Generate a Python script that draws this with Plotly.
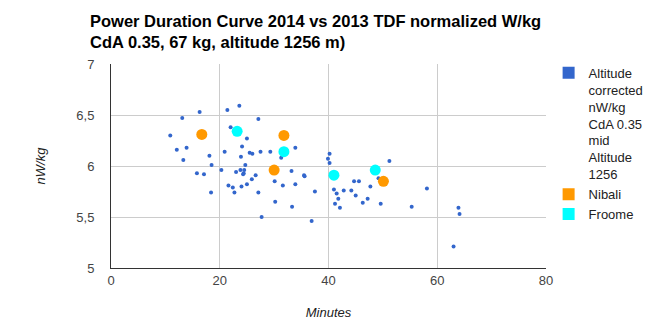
import plotly.graph_objects as go

blue_x = [16.3, 13.1, 10.9, 12.1, 13.9, 13.3, 18.1, 18.5, 15.8, 17.1, 18.4,
          23.6, 21.4, 27.1, 22.0, 25.0, 24.1, 20.9, 25.5, 26.0, 27.5, 29.3, 33.9,
          31.3, 23.9, 24.7, 20.3, 23.8, 24.5, 23.0, 24.4, 24.3, 26.6, 33.2, 35.5,
          35.6, 25.9, 30.1, 25.0, 31.6, 33.9, 21.6, 22.4, 24.0, 22.7, 27.1, 37.5,
          30.2, 33.3, 27.7, 36.9, 40.2, 39.9, 40.2, 51.2, 49.2, 44.7, 45.6, 47.7,
          41.0, 42.8, 44.2, 41.5, 45.0, 41.8, 47.2, 58.1, 41.2, 42.1, 46.3, 49.6,
          55.3, 63.9, 64.1, 63.0]
blue_y = [6.53, 6.47, 6.30, 6.16, 6.18, 6.06, 6.10, 6.01, 5.93, 5.92, 5.74,
          6.59, 6.55, 6.46, 6.38, 6.27, 6.19, 6.14, 6.13, 6.12, 6.14, 6.14, 6.18,
          6.08, 6.09, 6.01, 5.96, 5.96, 5.96, 5.94, 5.93, 5.92, 5.91, 5.95, 5.91,
          5.90, 5.87, 5.85, 5.82, 5.81, 5.82, 5.81, 5.79, 5.80, 5.74, 5.74, 5.75,
          5.65, 5.60, 5.50, 5.46, 6.12, 6.07, 6.03, 6.05, 5.88, 5.85, 5.85, 5.80,
          5.77, 5.76, 5.76, 5.73, 5.71, 5.68, 5.68, 5.78, 5.63, 5.59, 5.64, 5.63,
          5.60, 5.59, 5.53, 5.21]
nibali_x = [16.7, 31.8, 30.0, 50.1]
nibali_y = [6.31, 6.30, 5.96, 5.85]
froome_x = [23.2, 31.8, 41.0, 48.6]
froome_y = [6.34, 6.14, 5.91, 5.96]

names = ["Altitude<br>corrected<br>nW/kg<br>CdA 0.35<br>mid<br>Altitude<br>1256", "Nibali", "Froome"]
colors = ["#3366cc", "#ff9900", "#00ffff"]
title_text = "Power Duration Curve 2014 vs 2013 TDF normalized W/kg<br>CdA 0.35, 67 kg, altitude 1256 m)"

fig = go.Figure()
fig.add_trace(go.Scatter(x=blue_x, y=blue_y, mode="markers",
                         marker=dict(color=colors[0], size=4), showlegend=False))
fig.add_trace(go.Scatter(x=nibali_x, y=nibali_y, mode="markers",
                         marker=dict(color=colors[1], size=11), showlegend=False))
fig.add_trace(go.Scatter(x=froome_x, y=froome_y, mode="markers",
                         marker=dict(color=colors[2], size=11), showlegend=False))
for n, c in zip(names, colors):
    fig.add_trace(go.Scatter(x=[None], y=[None], mode="markers", name=n,
                             marker=dict(color=c, size=12, symbol="square")))

font = "Liberation Sans, Arial, sans-serif"
fig.update_layout(
    width=661, height=332,
    margin=dict(l=111, r=111, t=64, b=64),
    plot_bgcolor="white", paper_bgcolor="white",
    separators=",.",
    font=dict(family=font, size=13, color="#222222"),
    annotations=[dict(text="<b>" + title_text + "</b>", xref="paper", yref="paper",
                      x=(88 - 111) / 439, y=1 + (64 - 10) / 204, xanchor="left", yanchor="top",
                      align="left", showarrow=False,
                      font=dict(family=font, size=16.5, color="#000000"))],
    xaxis=dict(range=[0, 80], tickvals=[0, 20, 40, 60, 80], showgrid=True, gridcolor="#cccccc",
               zeroline=False, showline=True, linecolor="#333333", linewidth=1,
               ticks="", tickfont=dict(size=13, color="#444444"),
               title=dict(text="<i>Minutes</i>", font=dict(size=13, color="#222222"), standoff=21)),
    yaxis=dict(range=[5, 7], tickvals=[5, 5.5, 6, 6.5, 7], showgrid=True, gridcolor="#cccccc",
               zeroline=False, showline=True, linecolor="#333333", linewidth=1,
               ticks="", tickfont=dict(size=13, color="#444444"), ticklabelstandoff=13,
               title=dict(text="<i>nW/kg</i>", font=dict(size=13, color="#222222"), standoff=27)),
    legend=dict(x=1.006, xanchor="left", y=1.03, yanchor="top", valign="top",
                font=dict(size=13, color="#222222"), tracegroupgap=2, itemwidth=30,
                maxheight=1.0),
)
fig.write_html("out.html")
